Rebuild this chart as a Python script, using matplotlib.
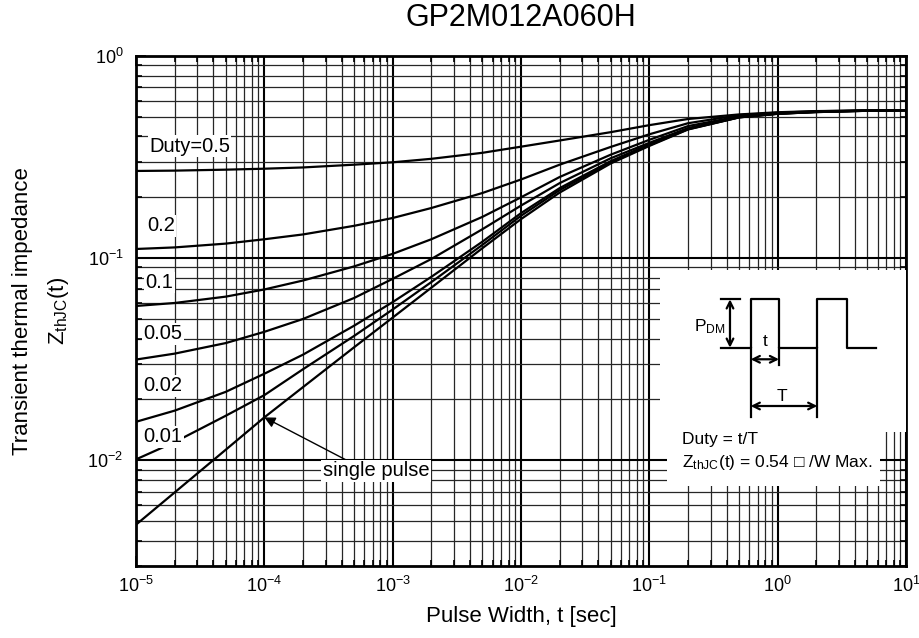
import numpy as np
import matplotlib.pyplot as plt
from matplotlib.patches import Rectangle
from matplotlib.ticker import NullFormatter

plt.rcParams['font.family'] = ['Liberation Sans', 'DejaVu Sans']
plt.rcParams['mathtext.fontset'] = 'custom'
plt.rcParams['mathtext.rm'] = 'Liberation Sans'
plt.rcParams['mathtext.it'] = 'Liberation Sans:italic'
plt.rcParams['mathtext.bf'] = 'Liberation Sans:bold'

# pulse width [sec]
t = [1e-5, 2e-5, 5e-5, 1e-4, 2e-4, 5e-4, 1e-3, 2e-3, 5e-3,
     1e-2, 2e-2, 5e-2, 1e-1, 2e-1, 5e-1, 1, 2, 5, 10]

# Zth(t) per duty cycle
z_d50 = [0.270, 0.271, 0.274, 0.277, 0.281, 0.290, 0.298, 0.310, 0.332,
         0.356, 0.382, 0.420, 0.455, 0.488, 0.514, 0.527, 0.534, 0.538, 0.540]
z_d20 = [0.111, 0.113, 0.118, 0.124, 0.131, 0.1445, 0.158, 0.177, 0.210,
         0.245, 0.290, 0.355, 0.410, 0.465, 0.510, 0.524, 0.533, 0.538, 0.540]
z_d10 = [0.058, 0.060, 0.0645, 0.070, 0.0775, 0.091, 0.105, 0.124, 0.160,
         0.200, 0.252, 0.325, 0.385, 0.450, 0.503, 0.520, 0.531, 0.537, 0.540]
z_d05 = [0.0315, 0.0337, 0.038, 0.0432, 0.050, 0.0635, 0.079, 0.099, 0.139,
         0.182, 0.235, 0.312, 0.372, 0.440, 0.500, 0.519, 0.530, 0.537, 0.539]
z_d02 = [0.0155, 0.0176, 0.0218, 0.0268, 0.0333, 0.0463, 0.0606, 0.0808, 0.1206,
         0.167, 0.222, 0.302, 0.366, 0.436, 0.498, 0.518, 0.529, 0.536, 0.539]
z_d01 = [0.0101, 0.0123, 0.0166, 0.0210, 0.0282, 0.0412, 0.0557, 0.0761, 0.1163,
         0.162, 0.217, 0.298, 0.362, 0.434, 0.497, 0.518, 0.528, 0.536, 0.539]
z_single = [0.0048, 0.00693, 0.01127, 0.0163, 0.0230, 0.0362, 0.0508, 0.0714, 0.112,
            0.156, 0.211, 0.294, 0.359, 0.433, 0.497, 0.518, 0.528, 0.536, 0.539]

curves = [z_d50, z_d20, z_d10, z_d05, z_d02, z_d01, z_single]
labels = ["Duty=0.5", "0.2", "0.1", "0.05", "0.02", "0.01"]
# label anchor (axes fraction, left / center)
label_pos = [(0.017, 0.823), (0.014, 0.667), (0.012, 0.556),
             (0.010, 0.455), (0.010, 0.353), (0.010, 0.253)]

fig, ax = plt.subplots(figsize=(9.2, 6.38), dpi=100)
fig.subplots_adjust(left=0.1478, right=0.9848, top=0.9122, bottom=0.1129)

for z in curves:
    ax.plot(t, z, color="black", lw=1.6, zorder=3)

ax.set_xscale("log")
ax.set_yscale("log")
ax.set_xlim(1e-5, 10)
ax.set_ylim(0.003, 1)
ax.yaxis.set_minor_formatter(NullFormatter())
ax.xaxis.set_minor_formatter(NullFormatter())

# grid
ax.set_axisbelow(True)
ax.grid(which="major", color="black", lw=1.5)
ax.grid(which="minor", color="0.15", lw=0.9)
for s in ax.spines.values():
    s.set_linewidth(2)
ax.tick_params(which="both", direction="in", top=True, right=True, width=1.2)
ax.tick_params(which="major", length=7, labelsize=13)
ax.tick_params(which="minor", length=4)
ax.tick_params(axis="x", which="major", pad=7)
ax.tick_params(axis="y", which="major", pad=9)

# duty labels
for (x, y), lab in zip(label_pos, labels):
    ax.text(x, y, lab, transform=ax.transAxes, fontsize=14.5, ha="left", va="center",
            zorder=5, bbox=dict(facecolor="white", edgecolor="none", pad=1))

ax.annotate("single pulse", xy=(t[3], z_single[3]), xytext=(0.2425, 0.187),
            textcoords="axes fraction", fontsize=14.5, ha="left", va="center", zorder=5,
            bbox=dict(facecolor="white", edgecolor="none", pad=1),
            arrowprops=dict(arrowstyle="-|>", color="black", lw=1, mutation_scale=16,
                            relpos=(0.24, 1.0), shrinkA=0, shrinkB=0))

# inset with pulse sketch
ax.add_patch(Rectangle((0.681, 0.263), 0.319, 0.318, transform=ax.transAxes,
                       facecolor="white", edgecolor="none", zorder=4))
ax.add_patch(Rectangle((0.690, 0.157), 0.276, 0.106, transform=ax.transAxes,
                       facecolor="white", edgecolor="none", zorder=4))

lo, hi = 0.428, 0.5229
x0, x1, x2, x3 = 0.7983, 0.8351, 0.8848, 0.9230
kw = dict(transform=ax.transAxes, color="black", lw=1.6, zorder=6, clip_on=False)
ax.plot([0.7597, x0, x0, x1, x1, x2, x2, x3, x3, 0.961],
        [lo, lo, hi, hi, lo, lo, hi, hi, lo, lo], **kw)
ax.plot([0.7597, 0.7844], [hi, hi], **kw)
ax.plot([x0, x0], [lo, 0.2927], **kw)
ax.plot([x1, x1], [lo, 0.3941], **kw)
ax.plot([x2, x2], [lo, 0.2927], **kw)

akw = dict(arrowstyle="<->", lw=1.6, color="black", mutation_scale=12,
           shrinkA=0, shrinkB=0)
ax.annotate("", xy=(0.7714, hi), xytext=(0.7714, lo), xycoords="axes fraction",
            arrowprops=akw, zorder=6)
ax.annotate("", xy=(x0, 0.4053), xytext=(x1, 0.4053), xycoords="axes fraction",
            arrowprops=akw, zorder=6)
ax.annotate("", xy=(x0, 0.3137), xytext=(x2, 0.3137), xycoords="axes fraction",
            arrowprops=akw, zorder=6)

tkw = dict(transform=ax.transAxes, fontsize=12.5, zorder=6)
ax.text(0.766, 0.4686, r"P$_{\rm DM}$", ha="right", va="center", **tkw)
ax.text(0.8169, 0.4398, "t", ha="center", va="center", **tkw)
ax.text(0.8385, 0.3333, "T", ha="center", va="center", **tkw)
ax.text(0.7087, 0.2471, "Duty = t/T", ha="left", va="center", **tkw)
ax.text(0.7087, 0.2025, "Z$_{\\rm thJC}$(t) = 0.54 \u25a1 /W Max.",
        ha="left", va="center", **tkw)

# titles and axis labels
ax.text(0.5, 1.0745, "GP2M012A060H", transform=ax.transAxes, fontsize=22,
        ha="center", va="center")
ax.text(0.5, -0.1, "Pulse Width, t [sec]", transform=ax.transAxes, fontsize=16,
        ha="center", va="center")
ax.text(-0.147, 0.5, "Transient thermal impedance", transform=ax.transAxes,
        fontsize=16, rotation=90, ha="center", va="center")
ax.text(-0.101, 0.5, r"Z$_{\rm thJC}$(t)", transform=ax.transAxes,
        fontsize=16, rotation=90, ha="center", va="center")

plt.savefig("out.png", dpi=100)
